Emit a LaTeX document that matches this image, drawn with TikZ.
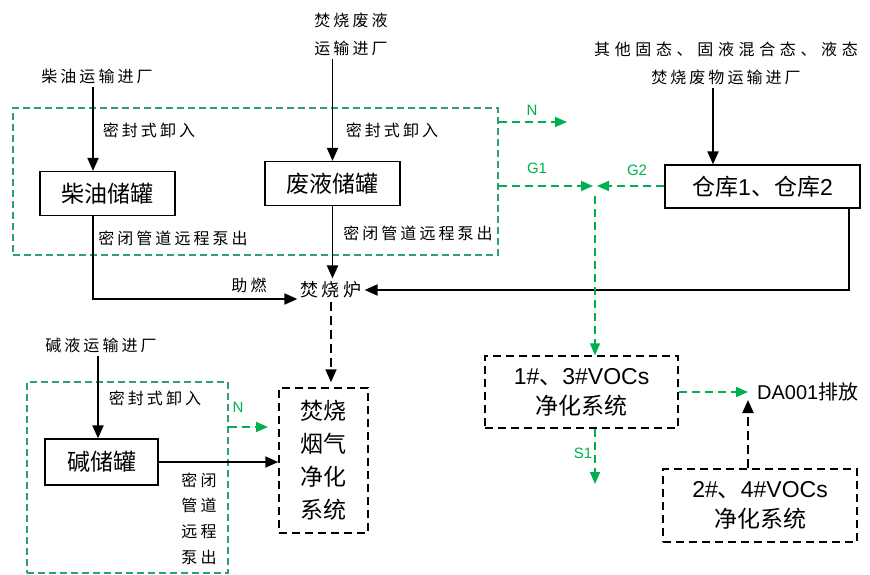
\documentclass[tikz,border=0pt]{standalone}
\usepackage{fontspec}
\setmainfont{Noto Sans CJK SC}
\newfontfamily\lat{Liberation Sans}
\newfontfamily\lbl[LetterSpace=19]{Noto Sans CJK SC}
\newfontfamily\lblw[LetterSpace=29]{Noto Sans CJK SC}
\usetikzlibrary{arrows.meta}
\definecolor{gr}{RGB}{0,176,80}
\definecolor{gboxc}{RGB}{46,160,110}
\tikzset{
  tank/.style={draw, line width=1.2pt, minimum height=44pt, inner sep=0pt, font=\fontsize{23}{28}\selectfont},
  dbox/.style={draw, line width=1.5pt, dash pattern=on 8pt off 5pt, inner sep=0pt, align=center},
  gbox/.style={draw=gboxc, line width=1.3pt, dash pattern=on 7pt off 4pt, inner sep=0pt},
  lab/.style={font=\lbl\fontsize{16}{28}\selectfont, inner sep=0pt, align=center},
  arr/.style={line width=1.9pt, -{Triangle[length=13pt,width=11pt]}},
  darr/.style={arr, dash pattern=on 9pt off 5pt},
  garr/.style={color=gr, line width=1.6pt, dash pattern=on 8pt off 5pt, -{Triangle[length=12pt,width=10pt]}},
  glab/.style={text=gr, font=\lat\fontsize{15}{17}\selectfont, inner sep=0pt}
}
\begin{document}
\begin{tikzpicture}[x=1pt,y=-1pt]
\useasboundingbox (0,0) rectangle (870,575);
% green dashed enclosures
\node[gbox, minimum width=485pt, minimum height=147pt] (box1) at (255.5,181.5) {};
\node[gbox, minimum width=201pt, minimum height=191pt] (box2) at (127.5,477.5) {};
% diesel
\node[lab] (chaiIn) at (97,76) {柴油运输进厂};
\node[tank, minimum width=135pt] (chaiTank) at (107.5,193.5) {柴油储罐};
\node[lab] (seal1) at (149,130) {密封式卸入};
\node[lab] (pump1) at (173,238) {密闭管道远程泵出};
\coordinate (cx) at (93,0);
% waste liquid
\node[lab] (wasteIn) at (351,34) {焚烧废液\\运输进厂};
\node[tank, minimum width=135pt] (wasteTank) at (332.5,183.5) {废液储罐};
\node[lab] (seal2) at (392,130) {密封式卸入};
\node[lab] (pump2) at (418,233) {密闭管道远程泵出};
% furnace
\node[font=\lbl\fontsize{18}{20}\selectfont, inner sep=3pt] (furnace) at (331,290) {焚烧炉};
\node[lab] (zhuran) at (249,285) {助燃};
% warehouse
\node[lab] (otherIn) at (726,63) {{\lblw 其他固态、固液混合态、液态}\\焚烧废物运输进厂};
\node[tank, minimum width=195pt, minimum height=43pt] (ware) at (762.5,186.5) {仓库{\lat 1}、仓库{\lat 2}};
\coordinate (ox) at (713,0);
\coordinate (rx) at (849,0);
% junction
\coordinate (J) at (595,186);
\coordinate (Nt) at (567,122);
\node[glab] (G1) at (537,168) {G1};
\node[glab] (G2) at (637,170) {G2};
\node[glab] (Nlab) at (532,110) {N};
% VOCs systems
\node[dbox, minimum width=193pt, minimum height=72pt, font=\fontsize{23}{30}\selectfont] (voc1) at (581.5,392) {{\lat 1\#}、{\lat 3\#VOCs}\\净化系统};
\node[dbox, minimum width=194pt, minimum height=73pt, font=\fontsize{23}{30}\selectfont] (voc2) at (760,505.5) {{\lat 2\#}、{\lat 4\#VOCs}\\净化系统};
\coordinate (S1e) at (595,484);
\node[glab] (S1) at (583,453) {S1};
\coordinate (DAt) at (748,392);
\node[anchor=west, inner sep=0pt, font=\fontsize{20}{24}\selectfont] (DA) at (757,392) {{\lat DA001}排放};
% flue gas system
\node[dbox, minimum width=89pt, minimum height=145pt, font=\fontsize{23}{33}\selectfont] (fgBox) at (323.5,460.5) {焚烧\\烟气\\净化\\系统};
% alkali
\node[lab] (alkIn) at (101,345) {碱液运输进厂};
\node[tank, minimum width=113pt, minimum height=46pt] (alkTank) at (101.5,462) {碱储罐};
\node[lab] (seal3) at (155,398) {密封式卸入};
\node[lab, font=\lbl\fontsize{16}{25.7}\selectfont] (pump3) at (199,518.5) {密闭\\管道\\远程\\泵出};
\coordinate (ax) at (98,0);
\coordinate (N2e) at (268,427);
\node[glab] (N2) at (238,407) {N};
% black connectors
\draw[arr, shorten <=3pt] (chaiIn.south -| cx) -- (cx |- chaiTank.north);
\draw[arr] (cx |- chaiTank.south) |- ([yshift=-9pt]furnace.west);
\draw[arr, shorten <=3pt] (wasteTank.north |- wasteIn.south) -- (wasteTank.north);
\draw[arr] (wasteTank.south) -- (wasteTank.south |- furnace.north);
\draw[arr, shorten <=3pt] (otherIn.south -| ox) -- (ox |- ware.north);
\draw[arr] (rx |- ware.south) |- (furnace.east);
\draw[darr, shorten >=5pt] (furnace.south) -- (furnace.south |- fgBox.north);
\draw[arr, shorten <=3pt] (alkIn.south -| ax) -- (ax |- alkTank.north);
\draw[arr] (alkTank.east) -- (fgBox.west |- alkTank.east);
\draw[darr] (DAt |- voc2.north) -- ([yshift=-8pt]DAt);
% green connectors
\draw[garr] (box1.east |- Nt) -- (Nt);
\draw[garr] (box1.east |- J) -- ([xshift=-2pt]J);
\draw[garr] (ware.west |- J) -- ([xshift=2pt]J);
\draw[garr] ([yshift=-10pt]J) -- (J |- voc1.north);
\draw[garr] (J |- voc1.south) -- (S1e);
\draw[garr] (voc1.east) -- (DAt);
\draw[garr] (box2.east |- N2e) -- (N2e);
\end{tikzpicture}
\end{document}
